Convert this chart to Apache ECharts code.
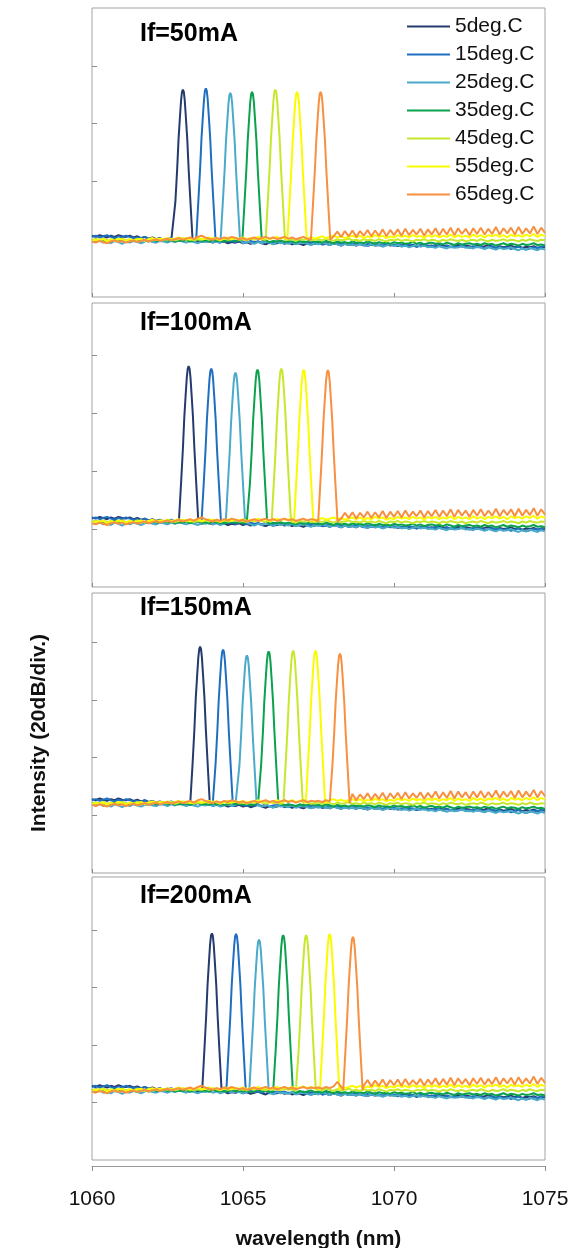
<!DOCTYPE html>
<html>
<head>
<meta charset="utf-8">
<script src="https://cdn.jsdelivr.net/npm/echarts@6/dist/echarts.min.js"></script>
<style>
  html, body { margin: 0; padding: 0; background: #ffffff; }
  #chart { width: 578px; height: 1248px; }
</style>
</head>
<body>
<div id="chart"></div>
<script>
// Drive currents (one panel each) and case temperatures (one trace each)
const currents = ['If=50mA', 'If=100mA', 'If=150mA', 'If=200mA'];
const temperatures = ['5deg.C', '15deg.C', '25deg.C', '35deg.C', '45deg.C', '55deg.C', '65deg.C'];
const xTicks = [1060, 1065, 1070, 1075];

// Lasing peak wavelength (nm) per temperature, one list per drive current
const peakWavelength50  = [1063.01, 1063.77, 1064.58, 1065.30, 1066.07, 1066.79, 1067.57];
const peakWavelength100 = [1063.20, 1063.95, 1064.75, 1065.48, 1066.27, 1067.01, 1067.81];
const peakWavelength150 = [1063.58, 1064.34, 1065.13, 1065.85, 1066.66, 1067.40, 1068.21];
const peakWavelength200 = [1063.97, 1064.77, 1065.53, 1066.33, 1067.09, 1067.87, 1068.64];

// Peak intensity (divisions of 20 dB above the bottom of each panel)
const peakLevel50  = [3.59, 3.61, 3.53, 3.55, 3.59, 3.55, 3.55];
const peakLevel100 = [3.81, 3.77, 3.70, 3.75, 3.77, 3.75, 3.74];
const peakLevel150 = [3.92, 3.87, 3.77, 3.84, 3.85, 3.85, 3.80];
const peakLevel200 = [3.94, 3.93, 3.83, 3.91, 3.91, 3.93, 3.88];

// Noise floor level (divisions) of each panel
const floorLevel = [0.99, 1.13, 1.21, 1.22];

// Measured line shape of one lasing peak: offset from centre (nm) and fraction of peak height
const peakOffset = [-0.32, -0.25, -0.19, -0.144, -0.10, -0.06, -0.03, 0, 0.03, 0.06, 0.10, 0.144, 0.19, 0.25, 0.32];
const peakShape  = [0, 0.25, 0.47, 0.67, 0.81, 0.93, 0.985, 1, 0.985, 0.93, 0.81, 0.67, 0.47, 0.25, 0];

// Noise floor trace samples from 1060 nm in 0.125 nm steps, in hundredths of a division
const noiseStartNm = 1060;
const noiseStepNm = 0.125;
const noise5 = [
  7,5,8,6,4,7,5,8,6,5, 7,4,6,3,5,2,4,1,3,0, 2,-1,1,-2,0,-1,-3,-1,-2,-4,
  -2,-3,-5,-2,-4,-3,-6,-4,-5,-3, -6,-4,-7,-5,-3,-6,-8,-5,-7,-6, -4,-7,-5,-8,-6,-7,-9,-6,-8,-7,
  -5,-8,-7,-9,-6,-8,-10,-7,-9,-8, -10,-7,-9,-11,-8,-10,-9,-11,-8,-10, -9,-11,-10,-8,-11,-9,-12,-10,-8,-11,
  -10,-12,-9,-11,-10,-13,-11,-9,-12,-10, -11,-13,-10,-12,-11,-9,-12,-14,-11,-13, -12,-10,-13,-11,-14,-12,-13,-11,-14,-12, -13
];
const noise15 = [
  5,7,4,6,8,5,3,6,4,7, 5,3,4,2,5,1,3,0,2,-1, 1,3,0,-2,1,-1,2,-3,0,-2,
  -1,-3,0,-2,-4,-1,-3,-2,-4,-1, -3,-5,-2,-4,-3,-5,-2,-6,-4,-3, -5,-3,-6,-4,-7,-5,-3,-6,-4,-7,
  -5,-8,-6,-4,-7,-5,-8,-6,-9,-7, -6,-8,-10,-7,-9,-6,-8,-10,-7,-9, -8,-10,-9,-11,-8,-10,-12,-9,-11,-10,
  -12,-9,-11,-13,-10,-12,-11,-13,-10,-12, -14,-11,-13,-12,-15,-13,-11,-14,-12,-15, -13,-16,-14,-12,-15,-17,-15,-13,-14,-12, -11
];
const noise25 = [
  -2,-4,-1,-5,-3,-6,-2,-4,-7,-3, -5,-2,-4,-6,-3,-1,-4,-5,-2,-3, -5,-2,-4,-1,-3,-5,-2,-4,-6,-3,
  -4,-2,-5,-3,-6,-4,-2,-5,-3,-4, -6,-3,-5,-7,-4,-6,-3,-5,-8,-4, -6,-5,-7,-4,-8,-6,-5,-7,-9,-6,
  -8,-5,-7,-9,-6,-8,-10,-7,-9,-8, -10,-7,-9,-11,-8,-10,-9,-12,-10,-8, -11,-9,-12,-10,-13,-11,-9,-12,-10,-13,
  -12,-14,-11,-13,-15,-12,-14,-13,-11,-14, -13,-15,-12,-14,-16,-13,-15,-17,-14,-16, -15,-13,-16,-18,-15,-17,-14,-16,-18,-15, -17
];
const noise35 = [
  -1,1,-2,0,-3,-1,1,-2,0,-1, -3,0,-2,1,-1,-3,0,-2,-1,1, -2,0,-3,-1,-2,0,-3,-1,1,-2,
  -1,-3,0,-2,-1,-3,-2,0,-2,-1, -3,-1,-4,-2,0,-3,-1,-4,-2,-3, -1,-4,-2,-3,-5,-2,-4,-3,-1,-4,
  -3,-5,-2,-4,-6,-3,-5,-4,-6,-3, -5,-4,-6,-3,-5,-7,-4,-6,-5,-7, -4,-6,-5,-7,-6,-4,-7,-5,-8,-6,
  -5,-7,-6,-8,-5,-7,-9,-6,-8,-7, -6,-8,-7,-9,-6,-8,-7,-10,-8,-6, -9,-7,-8,-10,-7,-9,-8,-6,-9,-8, -10
];
const noise45 = [
  -1,1,0,2,-1,1,-2,0,2,-1, 1,-1,2,0,-2,1,0,2,-1,1, 0,2,-1,1,3,0,2,-1,1,0,
  2,0,3,1,-1,2,0,1,3,0, 1,-1,2,0,3,1,-1,2,0,1, -1,2,0,1,-2,1,0,2,-1,0,
  1,-1,2,0,-2,1,-1,0,2,-1, 0,-2,1,-1,0,-2,1,-1,-3,0, -1,1,-2,0,-1,-3,0,-1,1,-2,
  0,-1,-3,0,-2,1,-1,-2,0,-3, -1,0,-2,1,-1,-3,0,-2,-1,1, -2,0,-1,-3,0,-2,1,-1,-2,0, -1
];
const noise55 = [
  -2,0,-1,1,-3,0,-1,2,0,-2, 1,-1,0,2,-1,1,3,0,2,1, 3,0,2,4,1,3,0,2,4,1,
  2,4,1,3,0,2,4,1,3,2, 4,1,3,2,5,2,4,1,3,5, 2,4,3,5,2,4,6,3,5,2,
  4,6,3,5,7,4,6,3,5,7, 4,7,3,6,4,8,5,7,3,6, 4,8,5,7,4,8,5,7,3,8,
  5,8,4,7,5,9,4,8,5,7, 4,9,5,8,4,8,6,9,5,8, 4,9,6,8,5,9,6,10,5,9, 6
];
const noise65 = [
  -3,-5,-2,-4,-6,-3,-1,-4,-2,-5, -3,-1,-4,-2,0,-3,-1,1,-2,0, 2,-1,1,3,0,2,4,1,5,7,
  4,2,0,3,1,4,2,5,3,1, 3,0,2,4,1,3,5,2,4,1, 3,5,2,4,1,3,5,2,4,3,
  4,2,5,3,6,14,5,15,6,16, 5,15,7,17,6,16,7,18,6,17, 8,18,7,19,8,17,9,19,7,18,
  9,20,8,19,9,21,8,20,10,19, 8,20,10,21,9,19,10,22,9,20, 11,21,9,22,10,20,11,23,10,21, 12
];

const peakWavelengths = [peakWavelength50, peakWavelength100, peakWavelength150, peakWavelength200];
const peakLevels = [peakLevel50, peakLevel100, peakLevel150, peakLevel200];
const noiseTraces = [noise5, noise15, noise25, noise35, noise45, noise55, noise65];

// Styling and panel layout
const colors = ['#253b6e', '#1f6fc0', '#4aaaca', '#0aa24c', '#c6e82c', '#fbfb00', '#f79040'];
const fontFamily = '"Liberation Sans", Arial, sans-serif';
const frameColor = '#a3a3a3';
const panelTop = [8, 303, 593, 877];
const panelHeight = [289, 284, 280, 283];
const panelYMax = [5.0, 4.9, 4.85, 4.92];
const titleTop = [22, 311, 596, 884];
const plotLeft = 92;
const plotRight = 33;

// One spectrum: noise floor samples outside the peak, measured peak shape inside it
function buildTrace(panel, t) {
  const floor = floorLevel[panel];
  const centre = peakWavelengths[panel][t];
  const top = peakLevels[panel][t];
  const halfWidth = peakOffset[peakOffset.length - 1];
  const pts = [];
  noiseTraces[t].forEach((v, i) => {
    const wl = noiseStartNm + i * noiseStepNm;
    if (Math.abs(wl - centre) > halfWidth) pts.push([wl, floor + v / 100]);
  });
  peakOffset.forEach((off, j) => {
    pts.push([centre + off, floor + peakShape[j] * (top - floor)]);
  });
  pts.sort((a, b) => a[0] - b[0]);
  return pts;
}

const grids = [], xAxes = [], yAxes = [], titles = [], series = [];
currents.forEach((label, p) => {
  const last = p === currents.length - 1;
  grids.push({
    left: plotLeft, right: plotRight, top: panelTop[p], height: panelHeight[p],
    containLabel: false, outerBoundsMode: 'none',
    show: true, borderColor: frameColor, borderWidth: 1, backgroundColor: 'transparent'
  });
  titles.push({
    text: label, left: 140, top: titleTop[p], padding: 0,
    textStyle: { fontFamily, fontSize: 25, fontWeight: 'bold', color: '#000' }
  });
  xAxes.push({
    type: 'value', gridIndex: p, min: 1060, max: 1075, interval: 5,
    position: 'bottom',
    offset: last ? 6 : 0,
    axisLine: { show: last, onZero: false, lineStyle: { color: '#9a9a9a', width: 1 } },
    axisTick: { show: true, inside: !last, length: last ? 5 : 4, lineStyle: { color: '#8c8c8c' } },
    axisLabel: {
      show: last, fontFamily, fontSize: 21, color: '#111', margin: 23,
      formatter: (v) => String(v)
    },
    splitLine: { show: false },
    name: last ? 'wavelength (nm)' : '',
    nameLocation: 'middle', nameGap: 63,
    nameTextStyle: { fontFamily, fontSize: 21, fontWeight: 'bold', color: '#111' }
  });
  yAxes.push({
    type: 'value', gridIndex: p, min: 0, max: panelYMax[p], interval: 1,
    axisLine: { show: false, onZero: false },
    axisTick: { show: true, inside: true, length: 5, lineStyle: { color: '#8c8c8c' }, customValues: [1, 2, 3, 4] },
    axisLabel: { show: false },
    splitLine: { show: false },
    name: p === 2 ? 'Intensity (20dB/div.)' : '',
    nameLocation: 'middle', nameGap: 42, nameRotate: 90,
    nameTextStyle: { fontFamily, fontSize: 21, fontWeight: 'bold', color: '#111' }
  });
  temperatures.forEach((name, t) => {
    series.push({
      name, type: 'line', xAxisIndex: p, yAxisIndex: p,
      data: buildTrace(p, t),
      symbol: 'none', showSymbol: false,
      lineStyle: { color: colors[t], width: 2 },
      itemStyle: { color: colors[t] },
      emphasis: { disabled: true },
      z: 2 + t
    });
  });
});

const chart = echarts.init(document.getElementById('chart'), null, { renderer: 'canvas' });
chart.setOption({
  animation: false,
  backgroundColor: '#ffffff',
  title: titles,
  legend: {
    data: temperatures.map((name, t) => ({ name, icon: 'rect', itemStyle: { color: colors[t] } })),
    orient: 'vertical', left: 407, top: 16, padding: 0,
    itemWidth: 43, itemHeight: 2, itemGap: 7,
    textStyle: { fontFamily, fontSize: 21, lineHeight: 21, color: '#111' }
  },
  grid: grids,
  xAxis: xAxes,
  yAxis: yAxes,
  series
});
</script>
</body>
</html>
